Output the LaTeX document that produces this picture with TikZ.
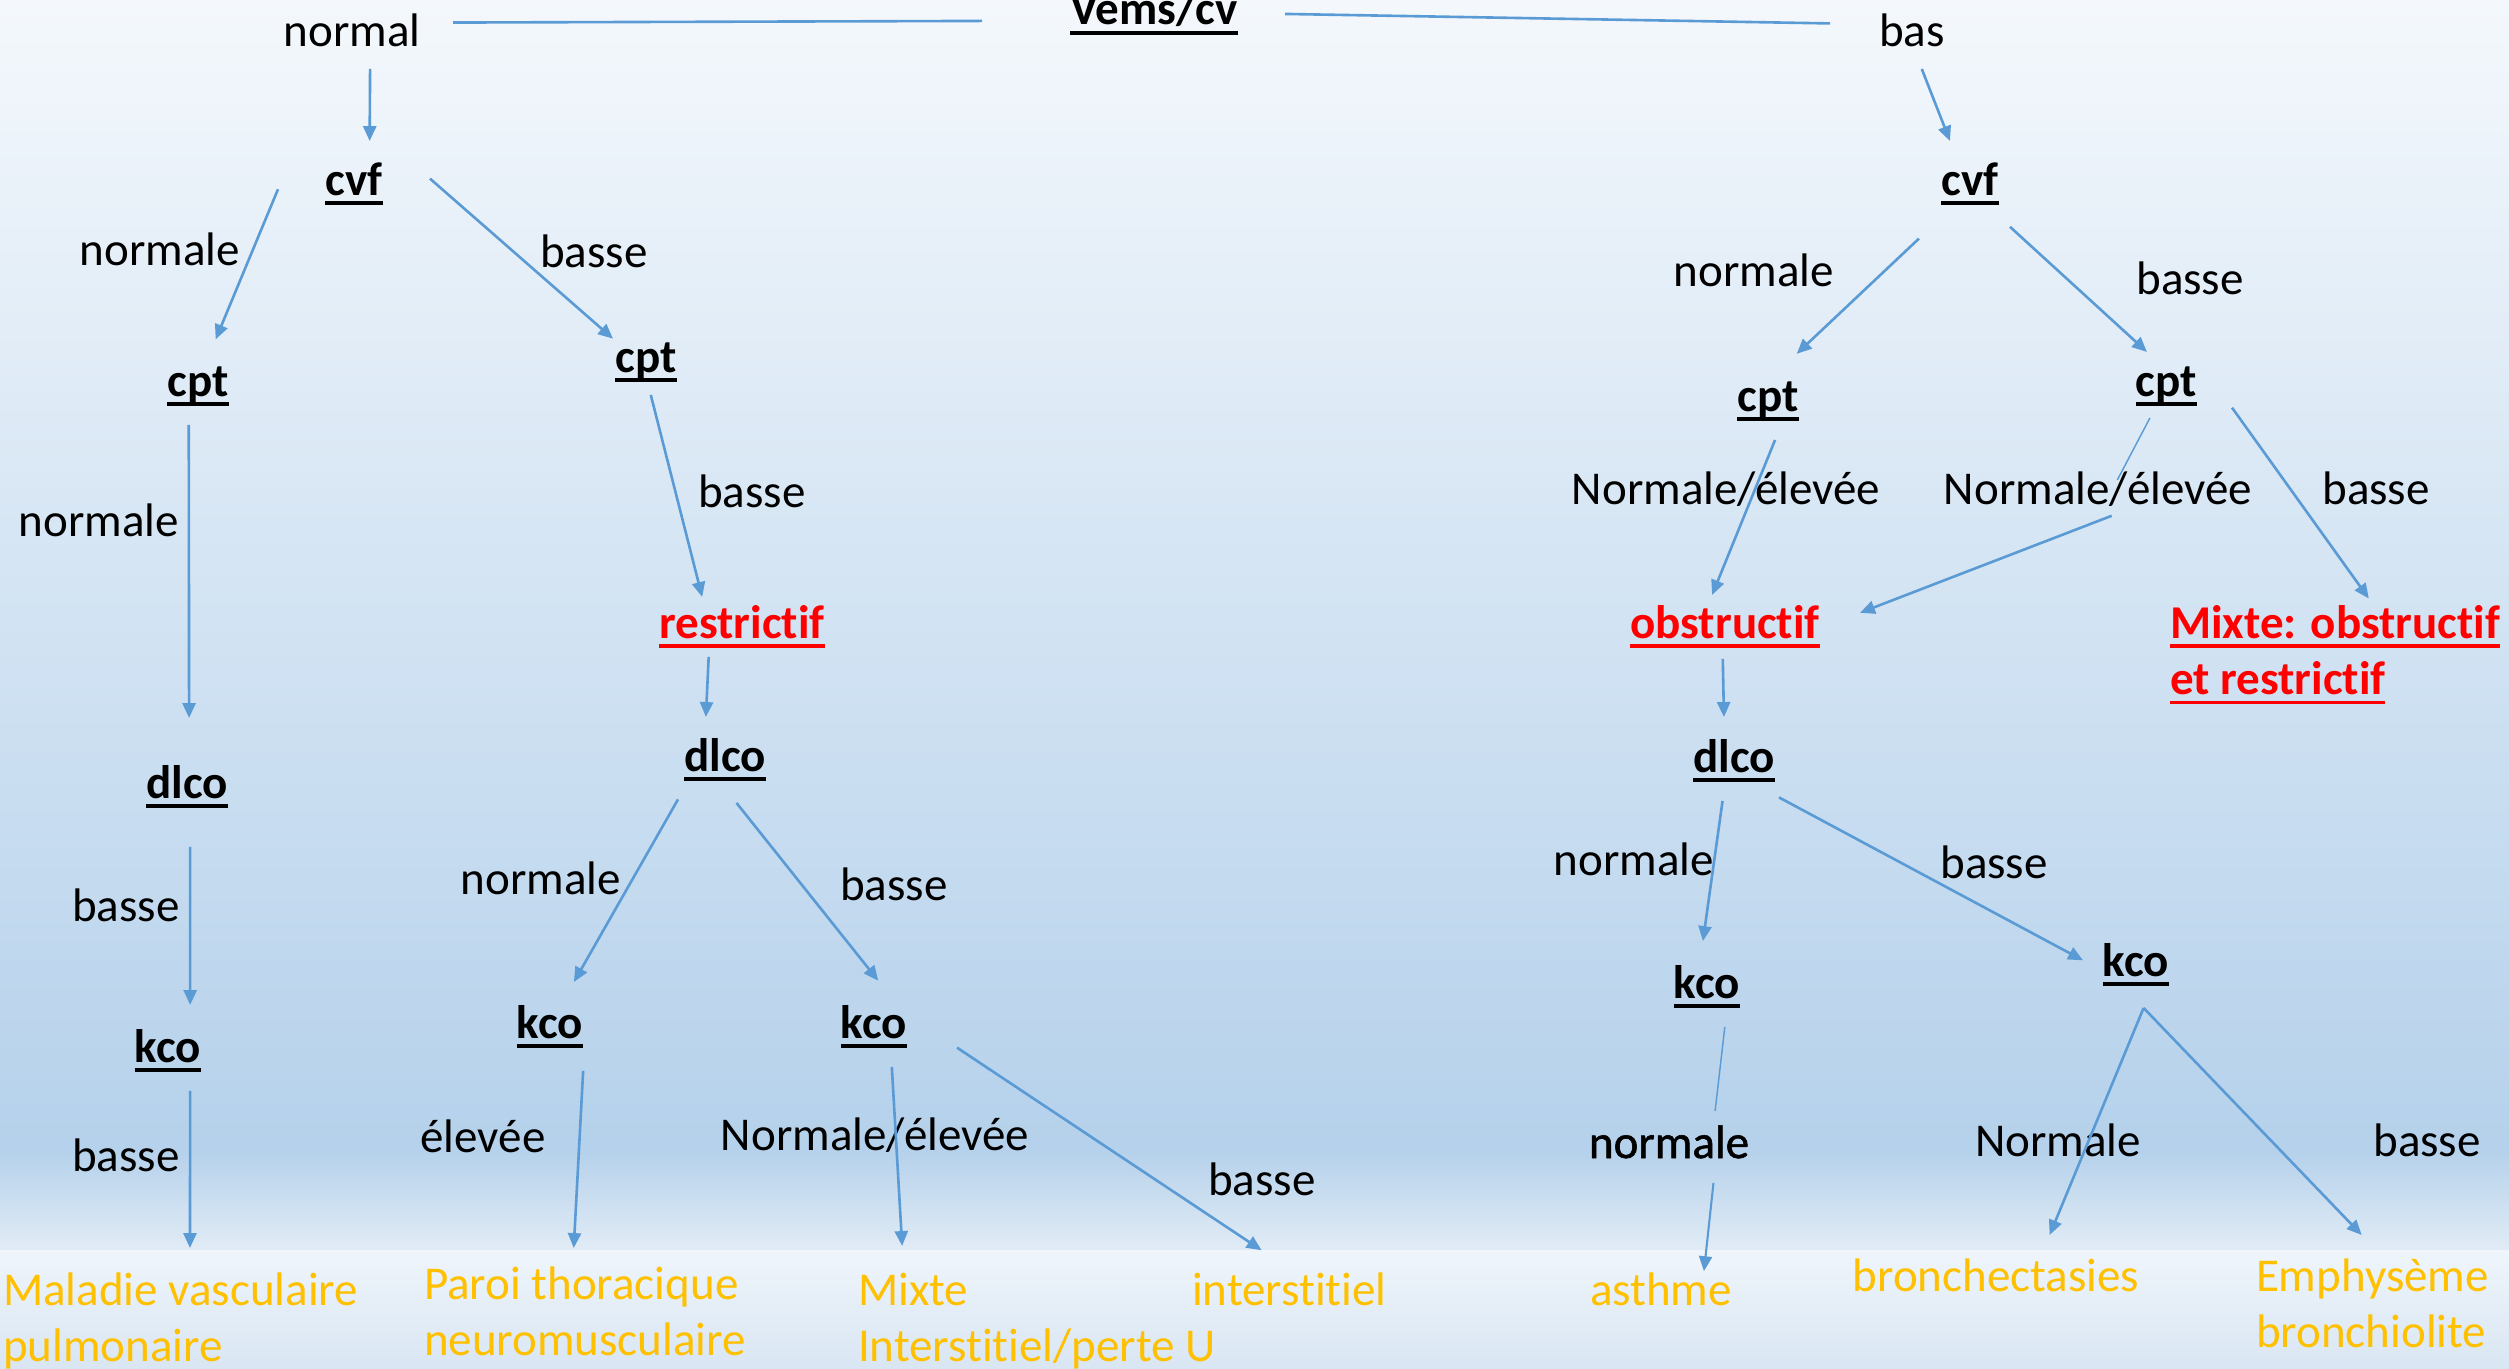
\documentclass[tikz,border=0pt]{standalone}
\usepackage{fontspec}
\setmainfont{Carlito}[Ligatures=NoCommon]
\newfontfamily\fakebold[FakeBold=1.2,Ligatures=NoCommon]{Carlito}
\usetikzlibrary{arrows.meta}
\newdimen\pxu \pxu=0.3826pt
\definecolor{arrowC}{HTML}{5B9BD5}
\definecolor{orangeC}{HTML}{FFC000}
\definecolor{redC}{HTML}{FF0000}
\definecolor{bgA}{HTML}{F4F8FC}
\definecolor{bgB}{HTML}{B5D1EB}
\definecolor{bgC}{HTML}{E2ECF6}
\definecolor{bgD}{HTML}{EFF5FB}
\definecolor{bgE}{HTML}{D9E6F3}
\newcommand\ulx[1]{\setbox0\hbox{#1}\rlap{\rule[-0.205em]{\wd0}{0.075em}}\box0}
\newcommand\blk[2]{\hbox to #1\pxu{\begin{tabular}[t]{@{}l@{}}#2\end{tabular}\hss}}
\tikzset{
  lbl/.style={font=\fontsize{18pt}{21.6pt}\selectfont, inner sep=0pt, outer sep=0pt,
    text height=12.96pt, text depth=4.5pt, anchor=base},
  keyn/.style={lbl, font=\fontsize{18pt}{21.6pt}\selectfont\bfseries},
  resn/.style={keyn, text=redC},
  outn/.style={lbl, text=orangeC},
  outb/.style={font=\fontsize{18pt}{21.6pt}\selectfont, inner sep=0pt, outer sep=0pt,
    text=orangeC, anchor=base west},
  resb/.style={outb, font=\fontsize{18pt}{21.6pt}\selectfont\bfseries, text=redC},
  sz/.style 2 args={minimum width=#1\pxu, minimum height=#2\pxu},
  conn/.style={arrowC, line width=1pt, -{Triangle[length=5.7pt,width=5pt]}},
  plainc/.style={arrowC, line width=1pt},
  thinc/.style={arrowC, line width=0.55pt},
}
\begin{document}
\begin{tikzpicture}[x=0.3826pt,y=-0.3826pt]
\useasboundingbox (0,0) rectangle (2509,1368);
% background
\shade[top color=bgA, bottom color=bgB] (0,0) rectangle (2509,1151);
\shade[top color=bgB, bottom color=bgC] (0,1150) rectangle (2509,1251);
\shade[top color=bgD, bottom color=bgE] (0,1250) rectangle (2509,1368);

% top row
\node[lbl, sz={202}{68}] (normal) at (352,46) {normal};
\node[keyn, sz={262}{0}] (vems) at (1154,25) {\ulx{Vems/cv}};
\node[lbl, sz={164}{68}] (bas) at (1912,46) {bas};

% left tree
\node[keyn, sz={152}{86}] (cvfL) at (354,195) {\ulx{cvf}};
\node[lbl] (lnA) at (160,265) {normale};
\node[lbl] (lbA) at (594,267) {basse};
\node[keyn, sz={0}{80}] (cptL1) at (198,396) {\ulx{cpt}};
\node[keyn, sz={66}{68}] (cptL2) at (646,372) {\ulx{cpt}};
\node[lbl] (lnB) at (99,536) {normale};
\node[lbl] (lbB) at (752,507) {basse};
\node[resn, sz={0}{60}] (restrictif) at (742,638) {\ulx{restrictif}};
\node[keyn, sz={0}{120}] (dlcoL1) at (187,798) {\ulx{dlco}};
\node[keyn, sz={94}{86}] (dlcoL2) at (725,771) {\ulx{dlco}};
\node[lbl] (lbC) at (126,921) {basse};
\node[lbl] (lnC) at (541,894) {normale};
\node[lbl] (lbD) at (894,900) {basse};
\node[keyn, sz={0}{80}] (kcoL1) at (168,1062) {\ulx{kco}};
\node[keyn, sz={66}{90}] (kcoL2) at (550,1038) {\ulx{kco}};
\node[keyn, sz={166}{80}] (kcoL3) at (874,1038) {\ulx{kco}};
\node[lbl] (lbE) at (126,1171) {basse};
\node[lbl] (leA) at (483,1152) {élevée};
\node[lbl] (lneA) at (875,1150) {Normale/élevée};
\node[lbl] (lbF) at (1262,1195) {basse};
\node[outb, minimum height=148\pxu] (maladie) at (3,1305) {\blk{400}{Maladie vasculaire\\pulmonaire}};
\node[outb, minimum height=136\pxu] (paroi) at (424,1299) {\blk{360}{Paroi thoracique\\neuromusculaire}};
\node[outb, minimum height=152\pxu] (mixteI) at (858,1305) {\blk{400}{Mixte\\Interstitiel/perte U}};
\node[outb, minimum height=87\pxu] (interstitiel) at (1192,1305) {\blk{200}{interstitiel}};

% right tree
\node[keyn, sz={80}{86}] (cvfR) at (1970,195) {\ulx{cvf}};
\node[lbl] (lnD) at (1754,286) {normale};
\node[lbl] (lbG) at (2190,294) {basse};
\node[keyn, sz={0}{80}] (cptR1) at (1768,411) {\ulx{cpt}};
\node[keyn, sz={132}{66}] (cptR2) at (2166,396) {\ulx{cpt}};
\node[lbl] (lneB) at (1726,504) {Normale/élevée};
\node[lbl] (lneC) at (2098,504) {Normale/élevée};
\node[lbl] (lbH) at (2376,504) {basse};
\node[resn, sz={270}{64}] (obstructif) at (1725,638) {\ulx{obstructif}};
\node[resb, minimum height=110\pxu] (mixteR) at (2170,638) {\blk{340}{\ulx{Mixte: obstructif}\\\ulx{et restrictif}}};
\node[keyn, sz={90}{80}] (dlcoR) at (1734,772) {\ulx{dlco}};
\node[lbl] (lnE) at (1634,875) {normale};
\node[lbl] (lbI) at (1994,878) {basse};
\node[keyn, sz={0}{80}] (kcoR1) at (1707,998) {\ulx{kco}};
\node[keyn, sz={106}{86}] (kcoR2) at (2136,976) {\ulx{kco}};
\node[lbl, font=\fakebold\fontsize{18pt}{21.6pt}\selectfont, sz={0}{72}] (normaleR) at (1669,1158) {normale};
\node[lbl] (lnF) at (2058,1156) {Normale};
\node[lbl] (lbJ) at (2427,1156) {basse};
\node[outn] (asthme) at (1661,1305) {asthme};
\node[outn, sz={0}{90}] (bronch) at (1996,1291) {bronchectasies};
\node[outb, minimum height=146\pxu] (emphy) at (2256,1291) {\blk{245}{Emphysème\\bronchiolite}};

% connectors: top
\draw[plainc, shorten >=41\pxu] (normal.7) -- (vems.183);
\draw[plainc] (vems.0) -- (bas.172);
\draw[conn] (normal.-62) -- (cvfL.70);
\draw[conn] (bas.-74) -- (cvfR.115);

% connectors: left
\draw[conn, shorten >=6\pxu] (cvfL.184) -- (cptL1.69);
\draw[conn] (cvfL.4) -- (cptL2.146);
\draw[conn, shorten >=9\pxu] (cptL1.-103) -- (dlcoL1.88);
\draw[conn] (cptL2.-82) -- (restrictif.143);
\draw[conn] (restrictif.-138) -- (dlcoL2.114);
\draw[conn, shorten >=6\pxu] (dlcoL1.-87) -- (kcoL1.61);
\draw[conn] (dlcoL2.-140) -- (kcoL2.62);
\draw[conn, shorten >=8\pxu] (dlcoL2.-75) -- (kcoL3.77);
\draw[conn] (kcoL1.-61) -- (maladie.100);
\draw[conn] (kcoL2.-53) -- (paroi.114);
\draw[conn] (kcoL3.-66) -- (mixteI.154);
\draw[conn] (kcoL3.-14) -- (interstitiel.125);

% connectors: right
\draw[conn, shorten <=17\pxu, shorten >=9\pxu] (cvfR.-132) -- (cptR1.61);
\draw[conn] (cvfR.-47) -- (cptR2.120);
\draw[conn] (cptR1.-80) -- (obstructif.112);
\draw[thinc, shorten >=-11\pxu] (cptR2.-116) -- (lneC.43);
\draw[conn] (lneC.-59) -- (obstructif.6);
\draw[conn] (cptR2.-19) -- (mixteR.63);
\draw[conn, shorten >=4\pxu] (obstructif.-94) -- (dlcoR.104);
\draw[conn, shorten >=6\pxu] (dlcoR.-106) -- (kcoR1.97);
\draw[conn] (dlcoR.-39) -- (kcoR2.175);
\draw[thinc] (kcoR1.-66) -- (normaleR.38);
\draw[conn, line width=0.8pt] (normaleR.-39) -- (asthme.28);
\draw[conn] (kcoR2.-80) -- (bronch.40);
\draw[conn] (kcoR2.-80) -- (emphy.103);
\end{tikzpicture}
\end{document}
